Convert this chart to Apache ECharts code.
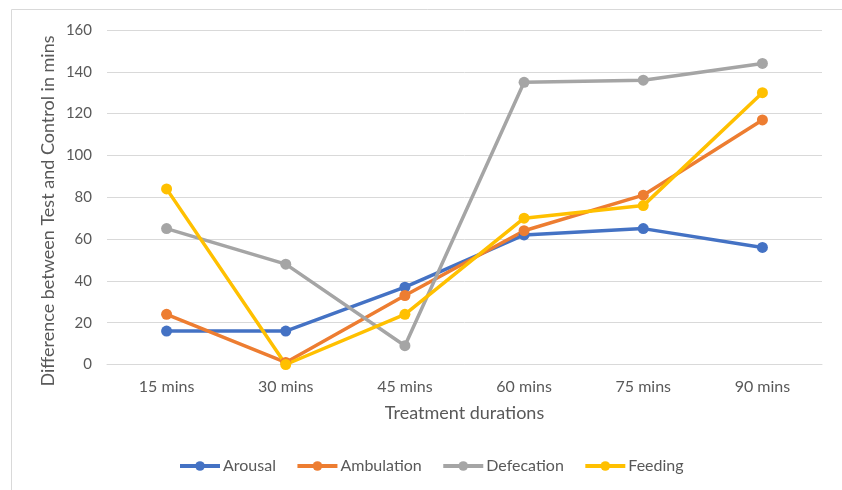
<!DOCTYPE html>
<html>
<head>
<meta charset="utf-8">
<script src="https://cdn.jsdelivr.net/npm/echarts@6/dist/echarts.min.js"></script>
<style>
html,body{margin:0;padding:0;background:#fff;}
#c{width:842px;height:490px;}
</style>
</head>
<body>
<div id="c"></div>
<script>
const categories = ['15 mins','30 mins','45 mins','60 mins','75 mins','90 mins'];
const arousal    = [16, 16, 37, 62, 65, 56];
const ambulation = [24, 1, 33, 64, 81, 117];
const defecation = [65, 48, 9, 135, 136, 144];
const feeding    = [84, 0, 24, 70, 76, 130];
const yTicks = {min: 0, max: 160, interval: 20};

const FONT = 'Lato';
const chart = echarts.init(document.getElementById('c'), null, {renderer: 'canvas'});
function mk(name, data, color) {
  return {
    name, type: 'line', data,
    symbol: 'circle', symbolSize: 11,
    lineStyle: {width: 3.5, color},
    itemStyle: {color},
    emphasis: {disabled: true},
    z: 3
  };
}
chart.setOption({
  animation: false,
  textStyle: {fontFamily: FONT},
  graphic: [
    {type: 'rect', shape: {x: 11.5, y: 9.5, width: 900, height: 600}, style: {fill: 'none', stroke: '#D9D9D9', lineWidth: 1}, silent: true, z: -1},
    {type: 'text', x: 48, y: 211, rotation: Math.PI / 2,
     style: {text: 'Difference between Test and Control in mins', fontFamily: FONT, fontSize: 18, fill: '#595959', align: 'center', verticalAlign: 'middle'}}
  ],
  grid: {left: 107, right: 20, top: 30, bottom: 125.5, containLabel: false},
  legend: {
    left: 178, top: 458, itemWidth: 40, itemHeight: 12, itemGap: 19.5, padding: 0,
    lineStyle: {width: 4},
    textStyle: {fontFamily: FONT, fontSize: 16, color: '#595959', padding: [0, 0, 0, -2]},
    data: ['Arousal', 'Ambulation', 'Defecation', 'Feeding']
  },
  xAxis: {
    type: 'category', data: categories, boundaryGap: true,
    name: 'Treatment durations', nameLocation: 'middle', nameGap: 40,
    nameTextStyle: {fontFamily: FONT, fontSize: 18, color: '#595959'},
    axisLine: {lineStyle: {color: '#D9D9D9', width: 1}},
    axisTick: {show: false},
    axisLabel: {fontFamily: FONT, fontSize: 16, color: '#595959', margin: 14}
  },
  yAxis: {
    type: 'value', min: yTicks.min, max: yTicks.max, interval: yTicks.interval,
    axisLine: {show: false}, axisTick: {show: false},
    axisLabel: {fontFamily: FONT, fontSize: 15, color: '#595959', margin: 15},
    splitLine: {lineStyle: {color: '#D9D9D9', width: 1}}
  },
  series: [
    mk('Arousal', arousal, '#4472C4'),
    mk('Ambulation', ambulation, '#ED7D31'),
    mk('Defecation', defecation, '#A5A5A5'),
    mk('Feeding', feeding, '#FFC000')
  ]
});
</script>
</body>
</html>
